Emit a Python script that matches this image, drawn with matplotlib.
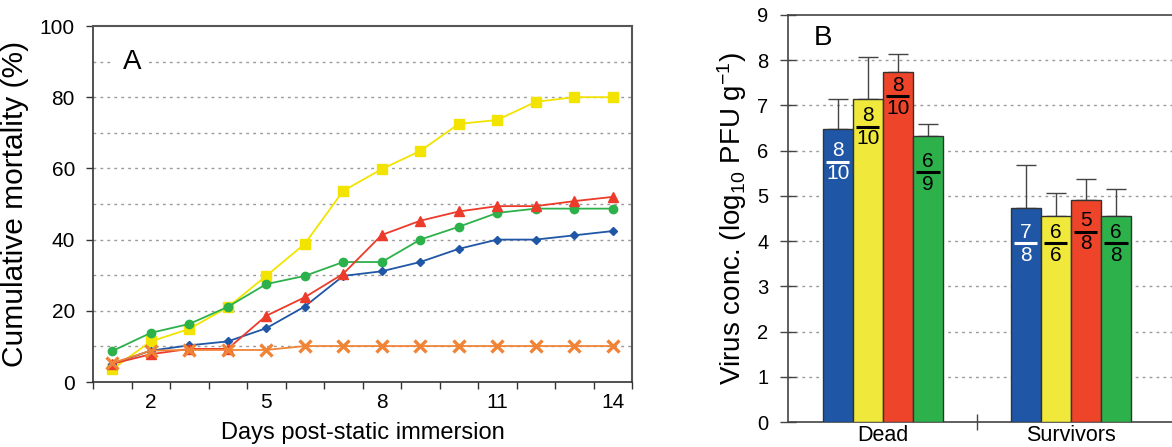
import matplotlib
matplotlib.use("Agg")
import matplotlib.pyplot as plt
import numpy as np

plt.rcParams['font.family'] = ['Liberation Sans', 'DejaVu Sans']
plt.rcParams['mathtext.default'] = 'regular'

# ---------------- Panel A data ----------------
days = list(range(1, 15))
xtick_days = [2, 5, 8, 11, 14]
yellow_A = [3.6, 11.4, 14.9, 21.0, 29.8, 38.8, 53.7, 59.8, 64.9, 72.5, 73.6, 78.7, 80.0, 80.0]
green_A = [8.7, 13.8, 16.3, 21.1, 27.5, 29.8, 33.7, 33.7, 40.0, 43.6, 47.5, 48.7, 48.7, 48.7]
red_A = [5.1, 7.8, 9.3, 9.3, 18.6, 23.8, 30.4, 41.3, 45.3, 47.9, 49.4, 49.4, 50.8, 52.0]
blue_A = [5.1, 8.8, 10.3, 11.4, 15.1, 21.2, 29.8, 31.1, 33.7, 37.4, 40.0, 40.0, 41.2, 42.4]
orange_A = [5.3, 8.8, 9.0, 9.0, 9.0, 10.1, 10.1, 10.1, 10.1, 10.1, 10.1, 10.1, 10.1, 10.1]

# ---------------- Panel B data ----------------
groups = ['Dead', 'Survivors']
blue_B = [6.47, 4.74]
yellow_B = [7.15, 4.56]
red_B = [7.75, 4.91]
green_B = [6.33, 4.56]
blue_err = [0.68, 0.94]
yellow_err = [0.93, 0.51]
red_err = [0.38, 0.47]
green_err = [0.26, 0.60]
# fractions (numerator / denominator) and y of fraction bar
blue_frac = [('8', '10', 5.76), ('7', '8', 3.95)]
yellow_frac = [('8', '10', 6.53), ('6', '6', 3.95)]
red_frac = [('8', '10', 7.20), ('5', '8', 4.21)]
green_frac = [('6', '9', 5.52), ('6', '8', 3.95)]

c_blue = '#1f56a6'
c_yellow_line = '#f2e400'
c_yellow = '#f0e83a'
c_red = '#ec3b2a'
c_red_bar = '#ee452a'
c_green = '#2db14b'
c_orange = '#f08436'
grid_c = '#9a9a9a'

fig = plt.figure(figsize=(11.72, 4.47), dpi=100)

# ================= Panel A =================
axA = fig.add_axes([93/1172, 1 - 382/447, 539/1172, 356/447])
axA.set_xlim(0.5, 14.5)
axA.set_ylim(0, 100)
for v in range(10, 100, 10):
    axA.axhline(v, color=grid_c, lw=1.0, ls=(0, (2, 3)), zorder=0)

axA.plot(days, yellow_A, color=c_yellow_line, lw=1.3, marker='s', ms=7.5, zorder=3)
axA.plot(days, green_A, color=c_green, lw=1.3, marker='o', ms=6, zorder=4)
axA.plot(days, blue_A, color=c_blue, lw=1.3, marker='D', ms=4.5, zorder=5)
axA.plot(days, red_A, color=c_red, lw=1.3, marker='^', ms=6.5, zorder=6)
axA.plot(days, orange_A, color=c_orange, lw=1.3, marker='x', ms=9, mew=2.4, zorder=7)

axA.set_yticks(range(0, 101, 20))
axA.set_xticks(xtick_days)
axA.set_xticks(np.arange(0.5, 15, 1.0), minor=True)
axA.tick_params(axis='x', which='major', length=0, pad=8, labelsize=15)
axA.tick_params(axis='x', which='minor', length=5, width=1, color='#333333', direction='out')
axA.tick_params(axis='y', which='major', length=5, width=1, color='#333333', pad=8, labelsize=15)
for s in ['left', 'bottom']:
    axA.spines[s].set_color('#333333')
    axA.spines[s].set_linewidth(1.2)
for s in ['top', 'right']:
    axA.spines[s].set_color('#555555')
    axA.spines[s].set_linewidth(1.5)
axA.set_ylabel('Cumulative mortality (%)', fontsize=21.5, labelpad=8)
axA.set_xlabel('Days post-static immersion', fontsize=17, labelpad=7)
axA.text(0.072, 0.9, 'A', transform=axA.transAxes, fontsize=20, ha='center', va='center',
         bbox=dict(facecolor='white', edgecolor='none', pad=6), zorder=8)

# ================= Panel B =================
axB = fig.add_axes([788/1172, 1 - 422/447, 384/1172, 407/447])
axB.set_xlim(-0.504, -0.504 + 384 / 188)
axB.set_ylim(0, 9)
for v in range(1, 9):
    axB.axhline(v, color=grid_c, lw=1.0, ls=(0, (2, 3)), zorder=0)

x = np.arange(len(groups))
w = 0.16
series = [
    (blue_B, blue_err, blue_frac, c_blue, 'white'),
    (yellow_B, yellow_err, yellow_frac, c_yellow, 'black'),
    (red_B, red_err, red_frac, c_red_bar, 'black'),
    (green_B, green_err, green_frac, c_green, 'black'),
]
for i, (vals, errs, fracs, col, tcol) in enumerate(series):
    xs = x + (i - 1.5) * w
    axB.errorbar(xs, vals, yerr=[np.zeros(len(errs)), errs], fmt='none',
                 ecolor='#444444', elinewidth=1.0, capsize=7, capthick=1.0, zorder=2)
    axB.bar(xs, vals, width=w, color=col, edgecolor='#333333', linewidth=1.0, zorder=3)
    for xi, (num, den, ly) in zip(xs, fracs):
        axB.plot([xi - 0.062, xi + 0.062], [ly, ly], color=tcol, lw=2.2,
                 solid_capstyle='butt', zorder=4)
        axB.text(xi, ly + 0.04, num, ha='center', va='bottom', fontsize=15, color=tcol, zorder=5)
        axB.text(xi, ly - 0.06, den, ha='center', va='top', fontsize=15, color=tcol, zorder=5)

axB.set_xticks(x)
axB.set_xticklabels(groups)
axB.set_xticks([0.5], minor=True)
axB.tick_params(axis='x', which='major', length=0, pad=2, labelsize=15.5)
axB.tick_params(axis='x', which='minor', length=12, width=1, color='#444444', direction='inout')
axB.set_yticks(range(0, 10))
axB.tick_params(axis='y', which='major', length=12, width=1, color='#444444',
                direction='inout', pad=8, labelsize=14.5)
for s in ['left', 'bottom', 'top']:
    axB.spines[s].set_color('#444444')
    axB.spines[s].set_linewidth(1.2)
axB.spines['right'].set_visible(False)
axB.set_ylabel('Virus conc. (log$_{10}$ PFU g$^{-1}$)', fontsize=20, labelpad=6)
axB.text(0.091, 0.943, 'B', transform=axB.transAxes, fontsize=20, ha='center', va='center')

fig.savefig('out.png', dpi=100)
